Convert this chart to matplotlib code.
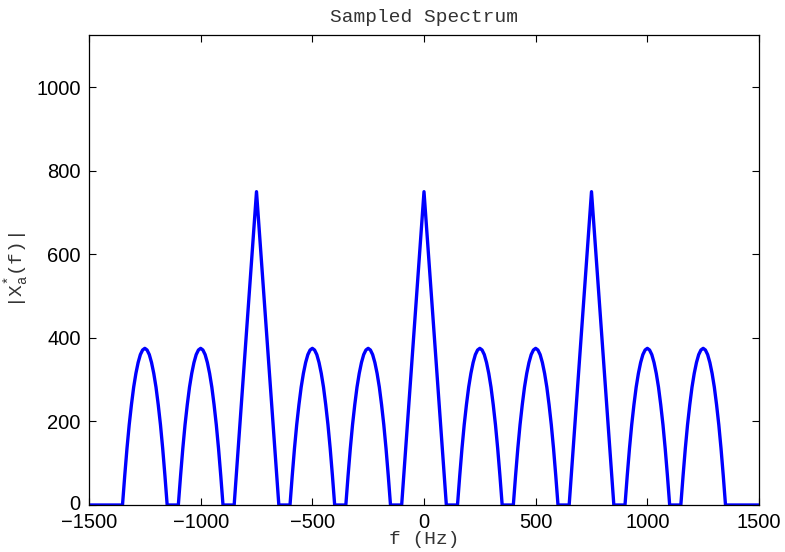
#!/usr/bin/env python3
# -*- coding: utf-8 -*-

import numpy as np
import matplotlib as mpl
mpl.use("Agg")
from matplotlib import pyplot as plt
from matplotlib.transforms import ScaledTranslation

# spectral replicas: rounded lobes and sharp aliased peaks (Hz)
lobe_centers = [-1250, -1000, -500, -250, 250, 500, 1000, 1250]
peak_centers = [-750, 0, 750]

# lobe profile, offset from centre (Hz) and |Xa*(f)|
lobe_offsets = [-100, -90, -80, -70, -60, -50, -40, -30, -20, -10, 0,
                10, 20, 30, 40, 50, 60, 70, 80, 90, 100]
lobe_heights = [0, 70, 135, 192, 240, 282, 315, 341, 360, 371, 375,
                371, 360, 341, 315, 282, 240, 192, 135, 70, 0]

# peak profile
peak_offsets = [-100, -50, 0, 50, 100]
peak_heights = [0, 375, 750, 375, 0]

f_range = [-1500, 1500]


def build_curve():
    parts = [(c, lobe_offsets, lobe_heights) for c in lobe_centers]
    parts += [(c, peak_offsets, peak_heights) for c in peak_centers]
    parts.sort(key=lambda p: p[0])
    f = [f_range[0]]
    mag = [0.]
    for c, offs, hs in parts:
        f += [c + o for o in offs]
        mag += list(hs)
    f.append(f_range[1])
    mag.append(0.)
    return np.array(f, dtype=float), np.array(mag, dtype=float)


def main():
    plt.rcParams['font.family'] = ['Liberation Sans', 'DejaVu Sans']
    plt.rcParams['mathtext.fontset'] = 'custom'
    plt.rcParams['mathtext.rm'] = 'Liberation Mono'
    plt.rcParams['mathtext.it'] = 'Liberation Mono'

    fig = plt.figure(figsize=(7.85, 5.52), dpi=100)
    ax = fig.add_axes([89/785, 47/552, 670/785, 470/552])

    f, mag = build_curve()
    ax.plot(f, mag, color='#0000ff', lw=2.4, solid_joinstyle='round')

    ax.set_xlim(*f_range)
    ax.set_ylim(0, 1125)
    ax.set_xticks(np.arange(-1500, 1501, 500))
    ax.set_yticks(np.arange(0, 1001, 200))
    ax.tick_params(direction='in', length=5, width=0.8, top=True, right=True,
                   labelsize=14.5)
    ax.tick_params(axis='x', pad=6)
    ax.tick_params(axis='y', pad=6)
    for s in ax.spines.values():
        s.set_linewidth(0.9)

    # lift the "0" a touch so it clears the -1500 below it
    fig.canvas.draw()
    lab0 = ax.get_yticklabels()[0]
    lab0.set_transform(lab0.get_transform() +
                       ScaledTranslation(0, 2/72, fig.dpi_scale_trans))

    mono = dict(family='Liberation Mono', fontsize=14, color='#333333')
    ax.set_title('Sampled Spectrum', pad=9, **mono)
    ax.set_xlabel('f (Hz)', labelpad=-1, **mono)
    ax.set_ylabel(r'|X$_{\mathrm{a}}^{\mathrm{*}}$(f)|', labelpad=4, **mono)

    plt.savefig('out.png', dpi=100)


if __name__ == "__main__":
    main()
